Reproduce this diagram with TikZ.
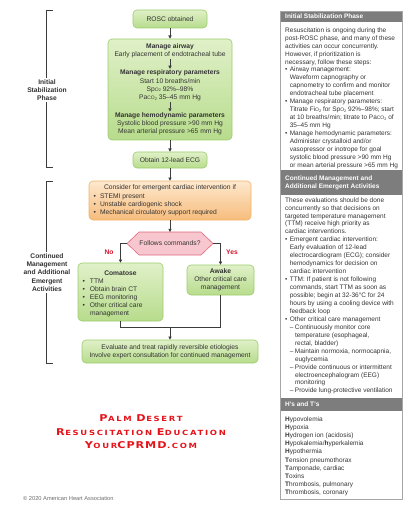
\documentclass[tikz,border=0pt]{standalone}
\usepackage{fontspec}
\setmainfont{Liberation Sans}
\newfontfamily\redfont[LetterSpace=20]{DejaVu Sans}
\newfontfamily\redbig{DejaVu Sans}
\usetikzlibrary{arrows.meta}
\definecolor{gtop}{HTML}{E0F0C8}
\definecolor{gbot}{HTML}{B7DC8C}
\definecolor{gbord}{HTML}{9CCC6E}
\definecolor{otop}{HTML}{FDE8CD}
\definecolor{obot}{HTML}{F7BC7C}
\definecolor{obord}{HTML}{F2B26A}
\definecolor{pfill}{HTML}{F8C6CE}
\definecolor{pbord}{HTML}{E06A7C}
\definecolor{hdr}{HTML}{7D7D7D}
\definecolor{pbor}{HTML}{A6A6A6}
\definecolor{txt}{HTML}{333333}
\definecolor{ln}{HTML}{3C3C3C}
\definecolor{redtxt}{HTML}{E5141B}
\definecolor{yesno}{HTML}{D3122A}
\definecolor{copy}{HTML}{6B6B6B}
\newcommand\fs{\fontsize{6.7}{8.2}\selectfont}
\newcommand\ps{\fontsize{6.5}{7.95}\selectfont}
\newcommand\sco[1]{{\fontsize{5}{5}\selectfont #1}}
\newcommand\subtwo{\raisebox{-0.6pt}{\fontsize{3.8}{4}\selectfont 2}}
\newcommand\bu{\makebox[4.6pt][l]{•}}
\newcommand\ind{\hspace*{4.6pt}}
\newcommand\da{\hspace*{4.6pt}\makebox[5.2pt][l]{–}}
\newcommand\dind{\hspace*{9.8pt}}
\newcommand\fbu{\makebox[6.5pt][l]{•}}
\newcommand\cbu{\makebox[7.5pt][l]{•}}
\newcommand\Bg[1]{{\redbig\bfseries\fontsize{9.4}{10}\selectfont #1}\kern0.4pt}
\newcommand\wide[1]{\scalebox{1.19}[1]{#1}}
\begin{document}
\begin{tikzpicture}[x=1pt,y=-1pt,
  every node/.style={text=txt, font=\fs},
  gbox/.style={draw=gbord, line width=0.6pt, rounded corners=4pt, top color=gtop, bottom color=gbot, inner sep=0pt},
  obox/.style={draw=obord, line width=0.6pt, rounded corners=4pt, top color=otop, bottom color=obot, inner sep=0pt},
  lbl/.style={align=center, inner sep=1pt},
  lft/.style={align=left, inner sep=0pt, anchor=north west},
  conn/.style={draw=ln, line width=0.6pt},
  arr/.style={conn, -{Triangle[length=3.2pt,width=3.2pt]}},
  brk/.style={draw=ln, line width=0.7pt},
  side/.style={align=center, fill=white, inner sep=1.5pt, font=\fs\bfseries},
  yn/.style={text=yesno, font=\fs\bfseries},
  hexs/.style={draw=pbord, fill=pfill, line width=0.6pt},
  ptxt/.style={align=left, inner sep=0pt, anchor=north west, font=\ps},
  hd/.style={text=white, font=\ps\bfseries, align=left, inner sep=0pt, anchor=west},
  redt/.style={text=redtxt, font=\redfont\bfseries\fontsize{7.1}{8}\selectfont, inner sep=0pt}
]
\useasboundingbox (0,0) rectangle (416,505);

% ---------- brackets ----------
\draw[brk] (53,10) -- (46,10) -- (46,167) -- (53,167);
\draw[brk] (53,181) -- (46,181) -- (46,363) -- (53,363);
\node[side] (lab1) at (47,90) {Initial\\Stabilization\\Phase};
\node[side] (lab2) at (47,272.5) {Continued\\Management\\and Additional\\Emergent\\Activities};

% ---------- flowchart ----------
\node[gbox, minimum width=74pt, minimum height=18pt] (rosc) at (170,19) {ROSC obtained};
\node[gbox, minimum width=124pt, minimum height=101pt] (stab) at (170,89.5) {};
\node[lbl] (air) at (170,51) {\textbf{Manage airway}\\Early placement of endotracheal tube};
\node[lbl] (resp) at (170,85.5) {\textbf{Manage respiratory parameters}\\Start 10 breaths/min\\Sp\sco{O}\subtwo{} 92\%–98\%\\Pa\sco{CO}\subtwo{} 35–45 mm Hg};
\node[lbl] (hemo) at (170,124) {\textbf{Manage hemodynamic parameters}\\Systolic blood pressure >90 mm Hg\\Mean arterial pressure >65 mm Hg};
\node[gbox, minimum width=74pt, minimum height=16pt] (ecg) at (170,160) {Obtain 12-lead ECG};
\node[obox, minimum width=162pt, minimum height=39pt] (cons) at (170,200.5) {};
\node[lbl] (consh) at (170,188) {Consider for emergent cardiac intervention if};
\node[lft] (consb) at (93.3,193.3) {\fbu STEMI present\\\fbu Unstable cardiogenic shock\\\fbu Mechanical circulatory support required};

\coordinate (hl) at (127,243.5);
\coordinate (hr) at (213,243.5);
\coordinate (ht) at (170,232);
\draw[hexs] (hl) -- (139,232) -- (201,232) -- (hr) -- (201,255) -- (139,255) -- cycle;
\node[lbl] (fc) at (170,243.5) {Follows commands?};
\node[yn] (no) at (109,252) {No};
\node[yn] (yes) at (232,252) {Yes};

\node[gbox, minimum width=85pt, minimum height=58pt] (coma) at (120.5,292) {};
\node[lbl] (comat) at (120.5,273) {\textbf{Comatose}};
\node[lft] (comab) at (82.3,278.3) {\cbu TTM\\\cbu Obtain brain CT\\\cbu EEG monitoring\\\cbu Other critical care\\\hspace*{7.5pt}management};
\node[gbox, minimum width=67pt, minimum height=30pt, align=center] (awake) at (220.5,280) {\textbf{Awake}\\Other critical care\\management};
\node[gbox, minimum width=176pt, minimum height=23pt, align=center] (final) at (170,351.5) {Evaluate and treat rapidly reversible etiologies\\Involve expert consultation for continued management};
\coordinate (mid) at (170,327);

\draw[arr] (rosc) -- (stab);
\draw[arr] (air) -- (resp);
\draw[arr] (resp) -- (hemo);
\draw[arr] (stab) -- (ecg);
\draw[arr] (ecg) -- (cons);
\draw[arr] (cons) -- (ht);
\draw[arr] (hl) -| (coma);
\draw[arr] (hr) -| (awake);
\draw[conn] (coma) |- (mid);
\draw[conn] (awake) |- (mid);
\draw[arr] (mid) -- (final);

% ---------- red text ----------
\node[redt] (r1) at (141,418) {\wide{\Bg{P}ALM \Bg{D}ESERT}};
\node[redt] (r2) at (141,432) {\wide{\Bg{R}ESUSCITATION \Bg{E}DUCATION}};
\node[redt] (r3) at (141,445) {\wide{\Bg{Y}OUR\Bg{C\kern0.8pt P\kern0.8pt R\kern0.8pt M\kern0.8pt D}.COM}};
\node[anchor=west, inner sep=0pt, text=copy, font=\fontsize{5.7}{6}\selectfont] (cpy) at (23,498) {© 2020 American Heart Association};

% ---------- right panel ----------
\fill[hdr] (280,11) rectangle (402,22);
\fill[hdr] (280,170) rectangle (402,195);
\fill[hdr] (280,398) rectangle (402,411);
\draw[draw=pbor, line width=0.6pt] (280,11) rectangle (402,499);
\node[hd] (h1) at (285,16.5) {Initial Stabilization Phase};
\node[hd] (h2) at (285,183) {Continued Management and\\Additional Emergent Activities};
\node[hd] (h3) at (285,404.5) {H's and T's};

\node[ptxt] (s1) at (285,27.3) {Resuscitation is ongoing during the\\
post-ROSC phase, and many of these\\
activities can occur concurrently.\\
However, if prioritization is\\
necessary, follow these steps:\\
\bu Airway management:\\
\ind Waveform capnography or\\
\ind capnometry to confirm and monitor\\
\ind endotracheal tube placement\\
\bu Manage respiratory parameters:\\
\ind Titrate Fi\sco{O}\subtwo{} for Sp\sco{O}\subtwo{} 92\%–98\%; start\\
\ind at 10 breaths/min; titrate to Pa\sco{CO}\subtwo{} of\\
\ind 35–45 mm Hg\\
\bu Manage hemodynamic parameters:\\
\ind Administer crystalloid and/or\\
\ind vasopressor or inotrope for goal\\
\ind systolic blood pressure >90 mm Hg\\
\ind or mean arterial pressure >65 mm Hg};

\node[ptxt] (s2) at (285,197.2) {These evaluations should be done\\
concurrently so that decisions on\\
targeted temperature management\\
(TTM) receive high priority as\\
cardiac interventions.\\
\bu Emergent cardiac intervention:\\
\ind Early evaluation of 12-lead\\
\ind electrocardiogram (ECG); consider\\
\ind hemodynamics for decision on\\
\ind cardiac intervention\\
\bu TTM: If patient is not following\\
\ind commands, start TTM as soon as\\
\ind possible; begin at 32-36°C for 24\\
\ind hours by using a cooling device with\\
\ind feedback loop\\
\bu Other critical care management\\
\da Continuously monitor core\\
\dind temperature (esophageal,\\
\dind rectal, bladder)\\
\da Maintain normoxia, normocapnia,\\
\dind euglycemia\\
\da Provide continuous or intermittent\\
\dind electroencephalogram (EEG)\\
\dind monitoring\\
\da Provide lung-protective ventilation};

\node[ptxt, font=\fontsize{6.5}{8.2}\selectfont] (s3) at (285,416.2) {\textbf{H}ypovolemia\\
\textbf{H}ypoxia\\
\textbf{H}ydrogen ion (acidosis)\\
\textbf{H}ypokalemia/\textbf{h}yperkalemia\\
\textbf{H}ypothermia\\
\textbf{T}ension pneumothorax\\
\textbf{T}amponade, cardiac\\
\textbf{T}oxins\\
\textbf{T}hrombosis, pulmonary\\
\textbf{T}hrombosis, coronary};
\end{tikzpicture}
\end{document}
